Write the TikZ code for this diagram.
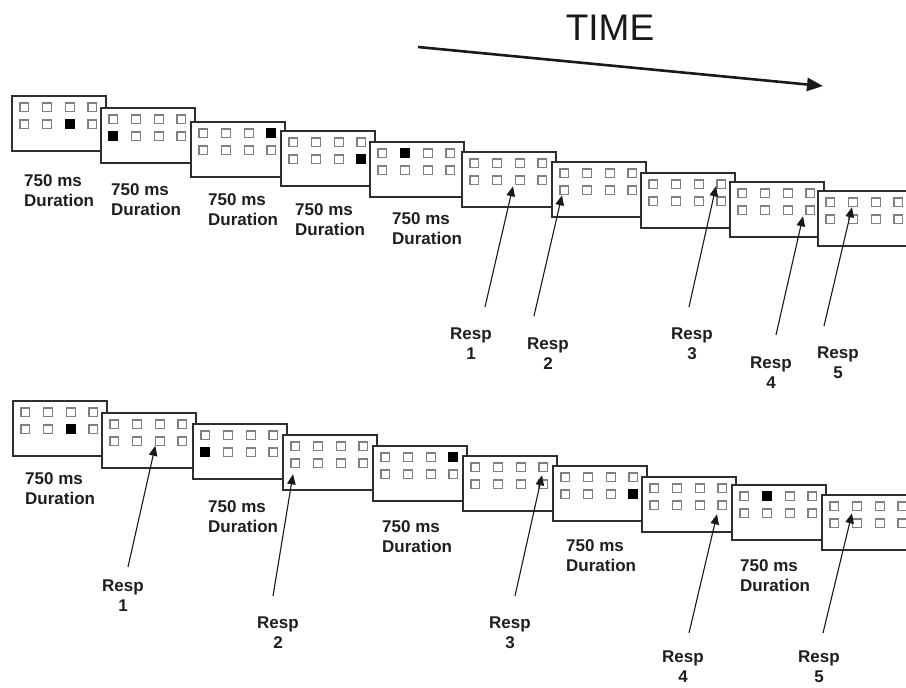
\documentclass[tikz,border=0pt]{standalone}
\usepackage{fontspec}
\setmainfont{Liberation Sans}
\usetikzlibrary{arrows.meta}
\begin{document}
\begin{tikzpicture}[x=1pt,y=-1pt,
  frame/.style={draw=black!82, line width=1.8pt, fill=white, minimum width=94pt, minimum height=55pt, inner sep=0pt, outer sep=0pt, anchor=north west},
  sq/.style={draw=black!50, line width=1.1pt, fill=white, minimum size=8.8pt, inner sep=0pt, outer sep=0pt, anchor=north west},
  on/.style={fill=black, draw=black},
  lbl/.style={font=\bfseries\fontsize{17}{20}\selectfont, text=black!88, inner sep=0pt},
  dur/.style={lbl, align=left, anchor=west},
  resp/.style={lbl, align=center},
  ptr/.style={line width=1.1pt, draw=black!90, -{Triangle[length=10pt,width=8.5pt]}},
  timearrow/.style={line width=2.6pt, draw=black!90, -{Triangle[length=16pt,width=13pt]}},
]
\useasboundingbox (0,0) rectangle (906,688);
\fill[white] (0,0) rectangle (906,688);
\clip (0,0) rectangle (906,688);

% title and time arrow
\node[font=\fontsize{37}{40}\selectfont, text=black!90, inner sep=0pt] (time) at (610,28) {TIME};
\coordinate (ts) at (418,47);
\coordinate (te) at (823,86);
\draw[timearrow] (ts) -- (te);

% frames
\foreach \nm/\px/\py/\fr/\fcol in {
  t1/12/96/2/3, t2/101/108/2/1, t3/191/122/1/4, t4/281/131/2/4, t5/370/142/1/2,
  t6/462/152/0/0, t7/552/162/0/0, t8/641/173/0/0, t9/730/182/0/0, t10/818/191/0/0,
  b1/13/401/2/3, b2/102/413/0/0, b3/193/424/2/1, b4/283/435/0/0, b5/373/446/1/4,
  b6/463/456/0/0, b7/553/466/2/4, b8/642/477/0/0, b9/732/485/1/2, b10/822/495/0/0}{
  \node[frame] (\nm) at (\px,\py) {};
  \foreach \rr/\ry in {1/7,2/24}{
    \foreach \cc/\cx in {1/8,2/30.7,3/53.3,4/76}{
      \ifnum\rr\cc=\fr\fcol\relax
        \node[sq,on] (\nm-\rr-\cc) at (\px+\cx,\py+\ry) {};
      \else
        \node[sq] (\nm-\rr-\cc) at (\px+\cx,\py+\ry) {};
      \fi
    }
  }
}

% duration labels, top row
\node[dur] (dt1) at (24,191) {750 ms\\Duration};
\node[dur] (dt2) at (111,200) {750 ms\\Duration};
\node[dur] (dt3) at (208,209.5) {750 ms\\Duration};
\node[dur] (dt4) at (295,219.5) {750 ms\\Duration};
\node[dur] (dt5) at (392,229) {750 ms\\Duration};
% duration labels, bottom row
\node[dur] (db1) at (25,489) {750 ms\\Duration};
\node[dur] (db3) at (208,517) {750 ms\\Duration};
\node[dur] (db5) at (382,537) {750 ms\\Duration};
\node[dur] (db7) at (566,556) {750 ms\\Duration};
\node[dur] (db9) at (740,576) {750 ms\\Duration};

% response labels, top row
\node[resp] (rt1) at (471,344) {Resp\\1};
\node[resp] (rt2) at (548,354) {Resp\\2};
\node[resp] (rt3) at (692,344) {Resp\\3};
\node[resp] (rt4) at (771,373) {Resp\\4};
\node[resp] (rt5) at (838,363) {Resp\\5};
% response labels, bottom row
\node[resp] (rb1) at (123,595.5) {Resp\\1};
\node[resp] (rb2) at (278,633) {Resp\\2};
\node[resp] (rb3) at (510,633) {Resp\\3};
\node[resp] (rb4) at (683,667) {Resp\\4};
\node[resp] (rb5) at (819,667) {Resp\\5};

% arrow tails
\coordinate (at1) at (485,307);
\coordinate (at2) at (534,316);
\coordinate (at3) at (689,307);
\coordinate (at4) at (776,335);
\coordinate (at5) at (824,326);
\coordinate (ab1) at (128,567);
\coordinate (ab2) at (273,596);
\coordinate (ab3) at (515,596);
\coordinate (ab4) at (689,633);
\coordinate (ab5) at (823,633);

% response arrows
\draw[ptr] (at1) -- ([shift={(-2.3,1.5)}]t6-2-3.south west);
\draw[ptr] (at2) -- ([shift={(2,0.5)}]t7-2-1.south west);
\draw[ptr] (at3) -- ([shift={(-1,-2.5)}]t8-1-4.south west);
\draw[ptr] (at4) -- ([shift={(-3,1.5)}]t9-2-4.south west);
\draw[ptr] (at5) -- ([shift={(3.3,0.5)}]t10-1-2.south west);
\draw[ptr] (ab1) -- ([shift={(0,0)}]b2-2-3.south west);
\draw[ptr] (ab2) -- ([shift={(2,6.5)}]b4-2-1.south west);
\draw[ptr] (ab3) -- ([shift={(3,3.5)}]b6-1-4.south west);
\draw[ptr] (ab4) -- ([shift={(-1,4.5)}]b8-2-4.south west);
\draw[ptr] (ab5) -- ([shift={(-0.7,2.5)}]b10-1-2.south west);
\end{tikzpicture}
\end{document}
